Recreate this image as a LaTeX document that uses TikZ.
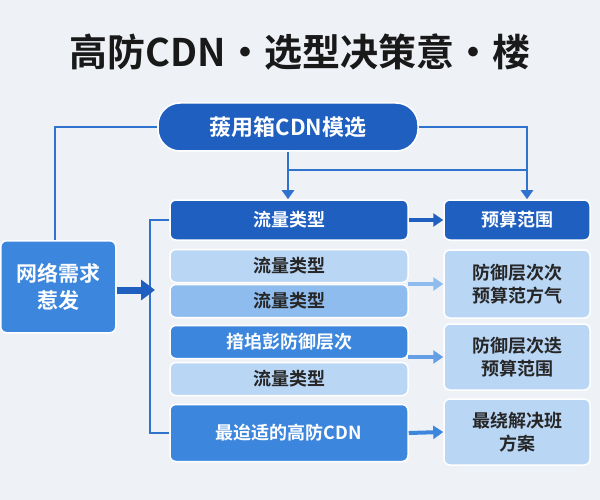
\documentclass[tikz,border=0pt]{standalone}
\usepackage{fontspec}
\newfontfamily\cjk{Noto Sans CJK SC}[BoldFont={* Bold}]
\usetikzlibrary{arrows.meta}
\definecolor{dk}{HTML}{1F5FC0}
\definecolor{md}{HTML}{3D86DD}
\definecolor{lt}{HTML}{B9D6F5}
\definecolor{lm}{HTML}{8FBCEE}
\definecolor{ln}{HTML}{2F73CF}
\definecolor{bg}{HTML}{EEF2F7}
\begin{document}
\begin{tikzpicture}[x=1pt,y=-1pt,font=\cjk\bfseries,
 bx/.style={draw=white,line width=1.5pt,rounded corners=6pt,align=center,inner sep=0pt},
 dkb/.style={bx,fill=dk,text=white},
 mdb/.style={bx,fill=md,text=white},
 ltb/.style={bx,fill=lt,text=black!85},
 lmb/.style={bx,fill=lm,text=black!85},
 ar/.style={-{Triangle[length=10pt,width=13pt]},line width=4pt},
 ln/.style={draw=ln,line width=2.5pt}]
\fill[bg] (0,0) rectangle (600,500);
\useasboundingbox (0,0) rectangle (600,500);
\node[font=\cjk\bfseries\fontsize{38}{42}\selectfont,text=black!90] (title) at (300,52) {高防CDN·选型决策意·楼};
\node[dkb,rounded corners=22pt,minimum width=260pt,minimum height=48pt,font=\cjk\bfseries\fontsize{22}{26}\selectfont] (top) at (288,127) {菝用箱CDN模选};
\node[mdb,minimum width=115pt,minimum height=92pt,anchor=north west,font=\cjk\bfseries\fontsize{21}{27}\selectfont] (src) at (0,240) {网络需求\\惹发};
\begin{scope}[font=\cjk\bfseries\fontsize{18}{23}\selectfont]
\node[dkb,minimum width=238pt,minimum height=40pt] (r1) at (289,220) {流量类型};
\node[ltb,minimum width=238pt,minimum height=33pt] (r2) at (289,266) {流量类型};
\node[lmb,minimum width=238pt,minimum height=33pt] (r3) at (289,301) {流量类型};
\node[mdb,minimum width=238pt,minimum height=33pt] (r4) at (289,342) {揞垖彭防御层次};
\node[ltb,minimum width=238pt,minimum height=33pt] (r5) at (289,379) {流量类型};
\node[mdb,minimum width=238pt,minimum height=57pt] (r6) at (289,433) {最迨适的高防CDN};
\node[dkb,minimum width=146pt,minimum height=40pt] (q1) at (517,220) {预算范围};
\node[ltb,minimum width=146pt,minimum height=68pt] (q2) at (517,284) {防御层次次\\预算范方气};
\node[ltb,minimum width=146pt,minimum height=66pt] (q3) at (517,357) {防御层次迭\\预算范围};
\node[ltb,minimum width=146pt,minimum height=66pt] (q4) at (517,432) {最绕解决班\\方案};
\end{scope}
\coordinate (c1) at (55,127);
\coordinate (c2) at (527,127);
\coordinate (c3) at (288,170);
\coordinate (c4) at (527,170);
\draw[ln] (top.west) -- (c1) -- (src.north -| c1);
\draw[ln,-{Triangle[length=9pt,width=12pt]}] (top.east) -- (c2) -- (q1.north -| c2);
\draw[ln] (top.south) -- (c3) -- (c4);
\draw[ln,-{Triangle[length=9pt,width=12pt]}] (c3) -- (r1.north -| c3);
\coordinate (b1) at (150,220);
\coordinate (b2) at (150,433);
\draw[ln] (r1.west) -- (b1) -- (b2) -- (r6.west);
\draw[draw=dk,-{Triangle[length=14pt,width=20pt]},line width=7pt] (src.east |- 0,290) -- (155,290);
\draw[ar,draw=dk] (r1.east) -- (q1.west);
\draw[ar,draw=lm] (408,284) -- (q2.west);
\draw[ar,draw=md!80] (408,357) -- (q3.west);
\draw[ar,draw=md] (r6.east) -- (q4.west);
\end{tikzpicture}
\end{document}
